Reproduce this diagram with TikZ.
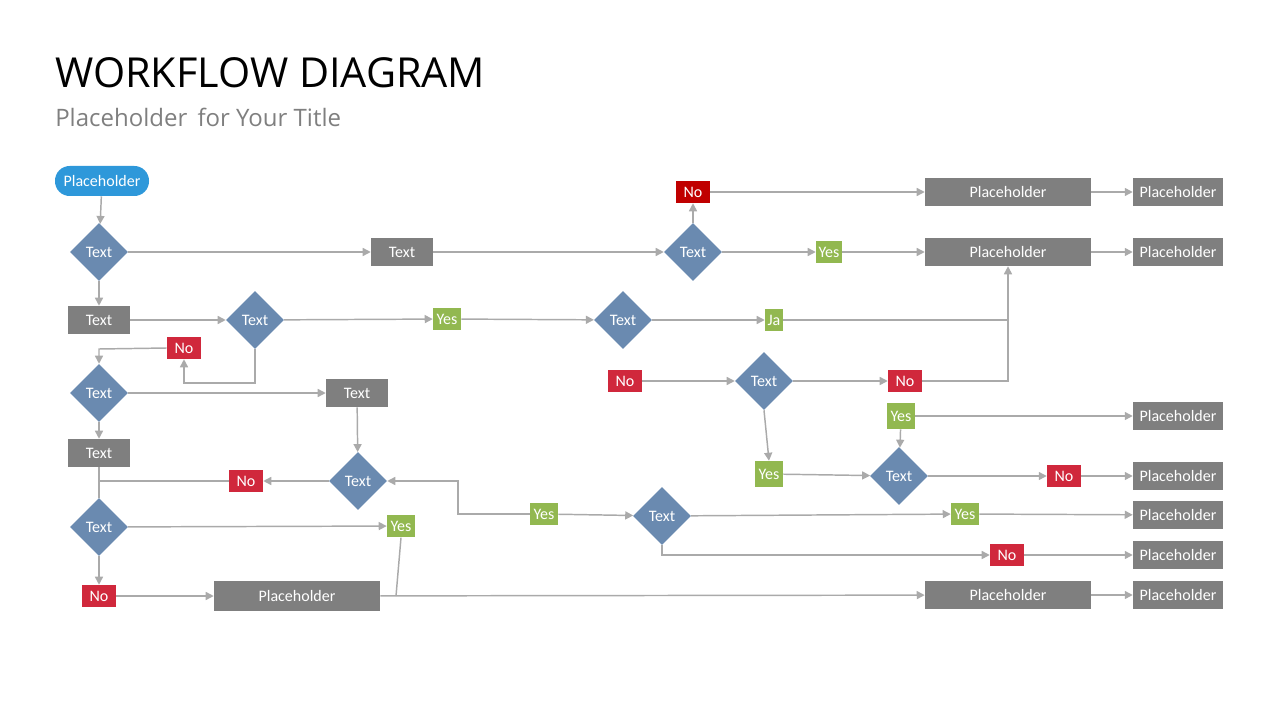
\documentclass[tikz,border=0pt]{standalone}
\usepackage{fontspec}
\setmainfont{Carlito}
\newfontfamily\titlefont{Open Sans}
\usetikzlibrary{shapes.geometric,arrows.meta}
\definecolor{lnc}{HTML}{AAAAAA}
\definecolor{boxg}{HTML}{7F7F7F}
\definecolor{dia}{HTML}{6A8AB0}
\definecolor{strt}{HTML}{2E98DA}
\definecolor{redd}{HTML}{C00000}
\definecolor{redn}{HTML}{D0283C}
\definecolor{grn}{HTML}{92B850}
\tikzset{
 base/.style={inner sep=0pt,text=white,font=\fontsize{12}{14}\selectfont},
 gbox/.style={base,fill=boxg,minimum width=46.5pt,minimum height=21pt},
 pbox/.style={base,fill=boxg,minimum width=124.5pt,minimum height=21pt},
 sbox/.style={base,fill=boxg,minimum width=67.5pt,minimum height=21pt},
 dnode/.style={base,diamond,fill=dia,minimum width=43.5pt,minimum height=43.5pt},
 nobox/.style={base,fill=redn,minimum width=25.5pt,minimum height=16.5pt},
 yesbox/.style={base,fill=grn,minimum width=21pt,minimum height=16.5pt},
 arr/.style={draw=lnc,line width=1.1pt,-{Triangle[width=6pt,length=6pt]}},
 ln/.style={draw=lnc,line width=1.1pt},
}
\begin{document}
\begin{tikzpicture}[x=0.75pt,y=-0.75pt]
\useasboundingbox (0,0) rectangle (1280,720);
\node[anchor=west,inner sep=0pt,font=\titlefont\fontsize{31}{36}\selectfont] (title) at (55,73) {WORKFLOW DIAGRAM};
\node[anchor=west,inner sep=0pt,text=boxg,font=\titlefont\fontsize{18}{22}\selectfont] (sub) at (55,117) {Placeholder\, for Your Title};

\node[base,fill=strt,rounded corners=11pt,minimum width=70.5pt,minimum height=22.5pt] (start) at (102,181) {Placeholder};
\node[dnode] (d1) at (99,252) {Text};
\node[gbox] (t1) at (402,252) {Text};
\node[dnode] (d2) at (693,252) {Text};
\node[nobox,fill=redd] (no1) at (693,192) {No};
\node[pbox] (ph1) at (1008,192) {Placeholder};
\node[sbox] (ph1b) at (1178,192) {Placeholder};
\node[yesbox,minimum width=19.5pt] (yes1) at (829,252) {Yes};
\node[pbox] (ph2) at (1008,252) {Placeholder};
\node[sbox] (ph2b) at (1178,252) {Placeholder};
\node[gbox] (t2) at (99,320) {Text};
\node[dnode] (d3) at (255,320) {Text};
\node[yesbox] (yes2) at (447,319) {Yes};
\node[dnode] (d4) at (623,320) {Text};
\node[yesbox,minimum width=13.5pt] (ja) at (774,320) {Ja};
\node[nobox] (no2) at (184,348) {No};
\node[dnode] (d5) at (99,393) {Text};
\node[gbox] (t3) at (357,393) {Text};
\node[nobox] (no3) at (625,381) {No};
\node[dnode] (d6) at (764,381) {Text};
\node[nobox] (no4) at (905,381) {No};
\node[yesbox,minimum height=19.5pt] (yes3) at (901,416) {Yes};
\node[sbox] (ph3b) at (1178,416) {Placeholder};
\node[gbox] (t4) at (99,453) {Text};
\node[yesbox,minimum height=19.5pt] (yes4) at (769,474) {Yes};
\node[dnode] (d7) at (899,476) {Text};
\node[nobox] (no5) at (1064,476) {No};
\node[sbox] (ph4b) at (1178,476) {Placeholder};
\node[dnode] (d8) at (358,481) {Text};
\node[nobox] (no6) at (246,481) {No};
\node[yesbox,minimum height=17pt] (yes5) at (544,514) {Yes};
\node[dnode] (d9) at (662,516) {Text};
\node[yesbox,minimum height=17pt] (yes6) at (965,514) {Yes};
\node[sbox] (ph5b) at (1178,515) {Placeholder};
\node[dnode] (d10) at (99,527) {Text};
\node[yesbox,minimum height=17pt] (yes7) at (401,526) {Yes};
\node[nobox] (no7) at (1007,555) {No};
\node[sbox] (ph6b) at (1178,555) {Placeholder};
\node[nobox] (no8) at (99,596) {No};
\node[pbox,minimum height=22.5pt] (ph7) at (297,596) {Placeholder};
\node[pbox] (ph8) at (1008,595) {Placeholder};
\node[sbox] (ph8b) at (1178,595) {Placeholder};

\coordinate (c1) at (1008,320);
\coordinate (c2) at (1008,381);
\coordinate (c3) at (255,383);
\coordinate (c4) at (184,383);
\coordinate (c5) at (99,349);
\coordinate (c6) at (99,481);
\coordinate (c7) at (396,596);
\coordinate (c8) at (458,514);
\coordinate (c9) at (458,481);
\coordinate (c10) at (662,555);

\draw[arr] (start) -- (d1);
\draw[arr] (d1) -- (t1);
\draw[arr] (t1) -- (d2);
\draw[arr] (d2) -- (no1);
\draw[arr] (no1) -- (ph1);
\draw[arr] (ph1) -- (ph1b);
\draw[arr] (d2) -- (yes1);
\draw[arr] (yes1) -- (ph2);
\draw[arr] (ph2) -- (ph2b);
\draw[arr] (d1) -- (t2);
\draw[arr] (t2) -- (d3);
\draw[arr] (d3) -- (yes2);
\draw[arr] (yes2) -- (d4);
\draw[arr] (d4) -- (ja);
\draw[ln] (ja) -- (c1);
\draw[arr] (no4) -- (c2) -- (c1) -- (ph2.south);
\draw[arr] (d3.south) -- (c3) -- (c4) -- (no2.south);
\draw[arr] (no2.west) -- (c5) -- (d5.north);
\draw[arr] (d5) -- (t3);
\draw[arr] (d5) -- (t4);
\draw[arr] (t3) -- (d8);
\draw[ln] (t4) -- (d10.north);
\draw[arr] (d8) -- (no6);
\draw[ln] (no6) -- (c6);
\draw[arr] (d10) -- (yes7);
\draw[arr] (d10) -- (no8);
\draw[arr] (no8) -- (ph7);
\draw[ln] (yes7.south) -- (c7);
\draw[arr] (ph7) -- (ph8);
\draw[arr] (ph8) -- (ph8b);
\draw[arr] (yes5.west) -- (c8) -- (c9) -- (d8.east);
\draw[arr] (yes5) -- (d9);
\draw[arr] (d9) -- (yes6);
\draw[arr] (yes6) -- (ph5b);
\draw[arr] (d9.south) -- (c10) -- (no7);
\draw[arr] (no7) -- (ph6b);
\draw[arr] (no3) -- (d6);
\draw[arr] (d6) -- (no4);
\draw[arr] (d6.south) -- (yes4.north);
\draw[arr] (yes4) -- (d7);
\draw[arr] (yes3) -- (d7);
\draw[arr] (yes3) -- (ph3b);
\draw[arr] (d7) -- (no5);
\draw[arr] (no5) -- (ph4b);
\end{tikzpicture}
\end{document}
